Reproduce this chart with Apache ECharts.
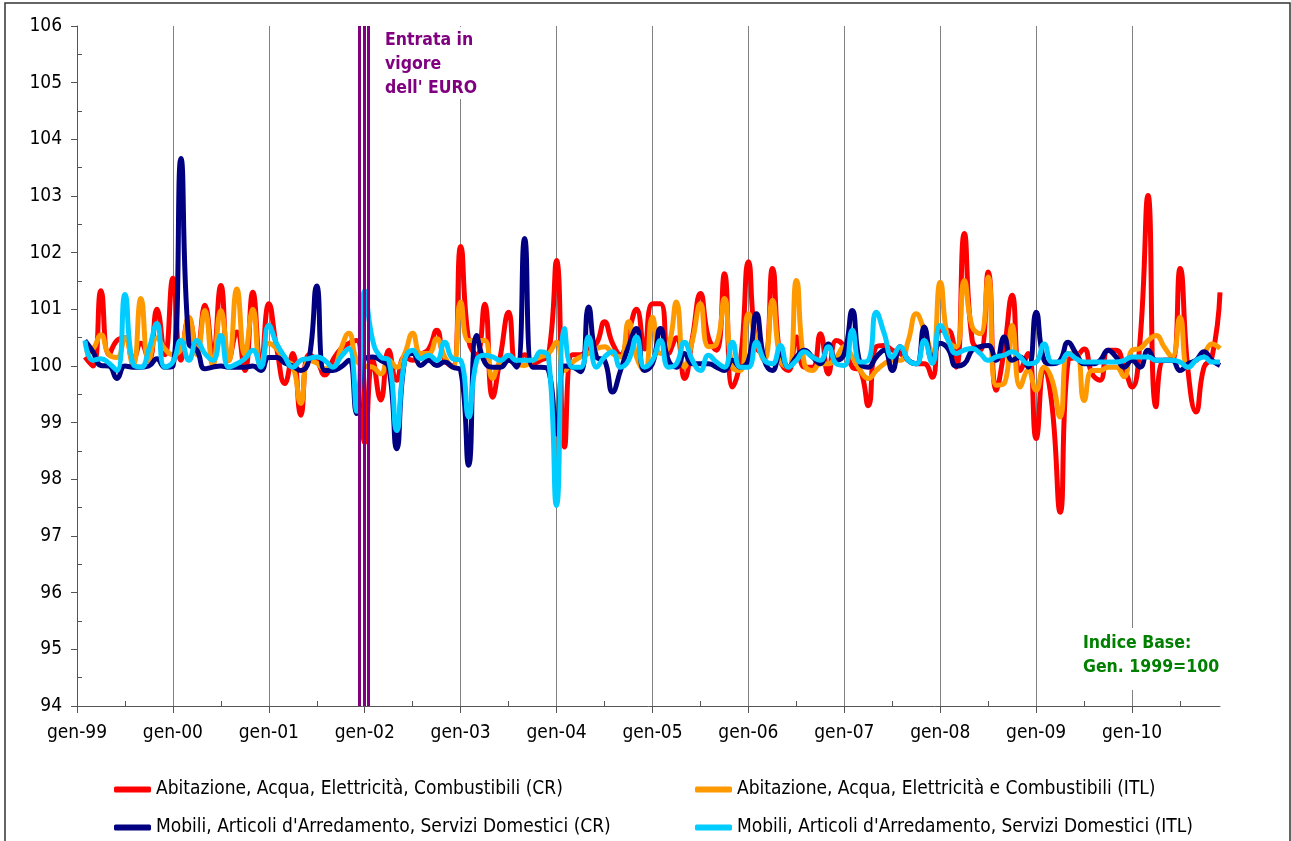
<!DOCTYPE html>
<html>
<head>
<meta charset="utf-8">
<script src="https://cdn.jsdelivr.net/npm/echarts@6/dist/echarts.min.js"></script>
<style>
  html, body { margin: 0; padding: 0; background: #fff; }
  #main { width: 1291px; height: 841px; }
</style>
</head>
<body>
<div id="main"></div>
<script>
// Categories: monthly, gen-99 .. dic-10
const monthNames = ['gen', 'feb', 'mar', 'apr', 'mag', 'giu', 'lug', 'ago', 'set', 'ott', 'nov', 'dic'];
const yearNames = ['99', '00', '01', '02', '03', '04', '05', '06', '07', '08', '09', '10'];
const months = [];
yearNames.forEach(y => monthNames.forEach(m => months.push(m + '-' + y)));

// Series names
const nameRedCR = 'Abitazione, Acqua, Elettricità, Combustibili (CR)';
const nameOrangeITL = 'Abitazione, Acqua, Elettricità e Combustibili (ITL)';
const nameNavyCR = "Mobili, Articoli d'Arredamento, Servizi Domestici (CR)";
const nameCyanITL = "Mobili, Articoli d'Arredamento, Servizi Domestici (ITL)";

// Values (one row per year, first month of 1999 has no value)
const abitazioneCR = [
  null, 100.16, 100.0, 101.33, 100.2, 100.45, 100.5, 100.1, 100.4, 100.1, 101.0, 100.2,
  101.55, 100.1, 100.85, 100.3, 101.07, 100.2, 101.42, 100.1, 100.6, 99.92, 101.3, 100.0,
  101.1, 100.3, 99.69, 100.22, 99.13, 100.2, 100.1, 99.84, 100.1, 100.3, 100.4, 100.45,
  98.65, 100.1, 99.4, 100.28, 99.75, 100.16, 100.1, 100.2, 100.3, 100.63, 100.1, 100.0,
  102.11, 100.45, 100.2, 101.09, 99.45, 100.2, 100.95, 100.0, 100.2, 100.05, 100.1, 100.2,
  101.86, 98.57, 100.2, 100.2, 100.3, 100.4, 100.78, 100.4, 100.2, 100.6, 101.0, 100.3,
  101.1, 101.1, 100.22, 100.5, 99.78, 100.5, 101.28, 100.5, 100.28, 101.63, 99.63, 100.1,
  101.84, 100.34, 100.22, 101.72, 100.1, 99.92, 100.51, 99.98, 99.98, 100.57, 99.86, 100.45,
  100.34, 99.98, 99.92, 99.3, 100.34, 100.36, 100.28, 100.22, 100.1, 100.04, 100.04, 99.8,
  100.63, 100.63, 99.98, 102.34, 100.45, 100.28, 101.66, 99.57, 100.28, 101.25, 99.92, 100.22,
  98.72, 99.98, 99.28, 97.42, 100.1, 100.16, 100.3, 99.86, 99.75, 100.28, 100.28, 99.98,
  99.63, 100.45, 103.01, 99.28, 100.1, 100.1, 101.72, 99.92, 99.19, 99.98, 100.16, 101.3
];
const abitazioneITL = [
  null, 100.22, 100.3, 100.55, 100.2, 100.15, 100.5, 100.0, 101.19, 100.1, 100.5, 100.3,
  100.2, 100.3, 100.86, 100.2, 100.98, 100.0, 100.98, 100.1, 101.36, 100.2, 101.0, 99.98,
  100.4, 100.3, 100.1, 100.0, 99.34, 100.1, 100.05, 99.95, 99.95, 100.3, 100.58, 100.1,
  100.0, 99.98, 99.86, 100.1, 99.98, 100.22, 100.58, 100.22, 100.22, 100.48, 100.16, 99.98,
  101.13, 100.45, 100.45, 100.45, 99.78, 100.07, 100.1, 100.04, 100.01, 100.1, 100.16, 100.22,
  100.42, 99.92, 100.07, 100.16, 100.22, 100.31, 100.34, 100.22, 100.16, 100.78, 100.16, 99.92,
  100.86, 100.22, 100.34, 101.13, 99.98, 100.45, 101.1, 100.34, 100.39, 101.19, 99.98, 99.92,
  100.92, 100.45, 100.1, 101.16, 100.1, 99.98, 101.51, 100.04, 99.92, 100.04, 100.04, 100.16,
  100.34, 100.16, 99.92, 99.78, 99.92, 100.04, 100.1, 100.1, 100.45, 100.92, 100.63, 100.22,
  101.48, 100.45, 100.34, 101.51, 100.69, 100.57, 101.57, 99.66, 99.69, 100.72, 99.63, 99.92,
  99.57, 99.98, 99.75, 99.1, 100.22, 100.22, 99.39, 99.92, 99.92, 99.98, 99.98, 99.81,
  100.28, 100.31, 100.45, 100.54, 100.34, 100.16, 100.86, 99.98, 100.1, 100.22, 100.39, 100.31
];
const mobiliCR = [
  null, 100.45, 100.25, 100.01, 100.0, 99.78, 100.0, 99.98, 99.98, 100.0, 100.13, 99.98,
  100.0, 103.66, 100.4, 100.28, 99.95, 99.98, 100.0, 99.98, 99.98, 99.98, 100.0, 99.92,
  100.15, 100.15, 100.05, 100.0, 99.92, 100.1, 101.41, 99.92, 99.92, 99.98, 100.1, 99.16,
  100.13, 100.16, 100.1, 99.98, 98.54, 100.1, 100.22, 100.01, 100.1, 100.01, 100.07, 99.98,
  99.92, 98.25, 100.54, 100.07, 99.98, 99.98, 100.1, 99.98, 102.25, 99.98, 99.98, 99.92,
  98.8, 100.0, 99.98, 99.9, 101.04, 100.16, 100.1, 99.54, 99.92, 100.34, 100.66, 99.92,
  100.04, 100.66, 100.1, 99.98, 100.22, 100.04, 100.04, 100.04, 99.98, 99.92, 100.1, 99.98,
  100.1, 100.92, 100.1, 99.92, 100.22, 99.98, 100.16, 100.28, 100.16, 100.04, 100.39, 100.1,
  100.22, 100.98, 100.04, 99.98, 100.16, 100.28, 99.92, 100.34, 100.1, 100.04, 100.69, 100.1,
  100.4, 100.3, 100.0, 100.04, 100.28, 100.34, 100.36, 100.1, 100.51, 100.1, 100.16, 99.98,
  100.95, 100.1, 100.04, 100.1, 100.42, 100.22, 100.04, 100.04, 100.1, 100.28, 100.16, 99.98,
  100.1, 99.98, 100.28, 100.1, 100.1, 100.1, 99.92, 100.04, 100.1, 100.25, 100.1, 100.01
];
const mobiliITL = [
  null, 100.45, 100.1, 100.13, 100.05, 99.92, 101.26, 100.04, 99.98, 100.3, 100.75, 99.98,
  100.07, 100.45, 100.1, 100.45, 100.22, 100.1, 100.54, 99.98, 100.04, 100.13, 100.28, 99.98,
  100.72, 100.39, 100.16, 99.98, 100.1, 100.13, 100.16, 100.1, 99.98, 100.16, 100.31, 99.2,
  101.33, 100.45, 100.16, 100.1, 98.86, 100.1, 100.28, 100.13, 100.19, 100.1, 100.42, 100.13,
  100.1, 99.1, 100.1, 100.19, 100.16, 100.1, 100.19, 100.1, 100.1, 100.1, 100.25, 100.15,
  97.54, 100.66, 99.98, 99.98, 100.51, 99.98, 100.16, 100.25, 99.98, 100.1, 100.51, 99.98,
  100.1, 100.45, 99.98, 100.04, 100.42, 100.1, 99.92, 100.19, 100.07, 99.98, 100.42, 99.98,
  99.98, 100.42, 100.1, 100.04, 100.36, 99.98, 100.1, 100.25, 100.16, 100.1, 100.34, 100.04,
  100.01, 100.63, 100.07, 100.1, 100.95, 100.57, 100.16, 100.34, 100.1, 100.04, 100.45, 100.05,
  100.72, 100.45, 100.22, 100.28, 100.31, 100.22, 100.1, 100.16, 100.19, 100.25, 100.16, 100.04,
  100.07, 100.39, 100.07, 100.07, 100.22, 100.13, 100.07, 100.07, 100.07, 100.07, 100.07, 100.1,
  100.16, 100.16, 100.16, 100.1, 100.1, 100.1, 100.07, 99.98, 100.1, 100.16, 100.07, 100.07
];

// Euro changeover marker (month index positions, Dec 2001 / Jan 2002)
const euroMarks = [35.33, 35.88, 36.46];

const FONT = "'DejaVu Sans Condensed', 'DejaVu Sans', sans-serif";
const isYearStart = idx => idx % 12 === 0;
const isMidYear = idx => idx % 12 === 6;

const chart = echarts.init(document.getElementById('main'));

function lineSeries(name, data, color) {
    return {
        name: name,
        type: 'line',
        data: data,
        smooth: true,
        showSymbol: false,
        symbol: 'none',
        color: color,
        lineStyle: { color: color, width: 5 }
    };
}

function legendBlock(left, names) {
    return {
        orient: 'vertical',
        left: left,
        top: 780,
        padding: 0,
        itemWidth: 37,
        itemHeight: 6,
        itemGap: 19,
        icon: 'roundRect',
        textStyle: { fontSize: 19, fontFamily: FONT, color: '#000' },
        data: names
    };
}

const option = {
    animation: false,
    backgroundColor: '#fff',
    grid: { left: 77, top: 26, width: 1143, height: 680 },
    legend: [
        legendBlock(114, [nameRedCR, nameNavyCR]),
        legendBlock(695, [nameOrangeITL, nameCyanITL])
    ],
    xAxis: [
        {
            type: 'category',
            data: months,
            boundaryGap: false,
            axisLine: { lineStyle: { color: '#555', width: 1 } },
            axisTick: { show: true, interval: isYearStart, length: 7, lineStyle: { color: '#555' } },
            axisLabel: { interval: isYearStart, color: '#000', fontSize: 19, fontFamily: FONT, margin: 18 },
            splitLine: { show: true, interval: isYearStart, lineStyle: { color: '#808080', width: 1 } }
        },
        {
            type: 'category',
            data: months,
            boundaryGap: false,
            position: 'bottom',
            axisLine: { show: false },
            axisLabel: { show: false },
            splitLine: { show: false },
            axisTick: { show: true, inside: true, interval: isMidYear, length: 5, lineStyle: { color: '#555' } }
        },
        {
            // month-index scale used only to place the euro marker
            type: 'value',
            min: 0,
            max: months.length - 1,
            show: false
        }
    ],
    yAxis: {
        type: 'value',
        min: 94,
        max: 106,
        interval: 1,
        axisLine: { show: true, lineStyle: { color: '#555', width: 1 } },
        axisTick: { show: true, length: 6, lineStyle: { color: '#555' } },
        minorTick: { show: true, splitNumber: 2, length: -5, lineStyle: { color: '#555' } },
        splitLine: { show: false },
        axisLabel: { color: '#000', fontSize: 19, fontFamily: FONT, margin: 15 }
    },
    series: [
        lineSeries(nameRedCR, abitazioneCR, '#FF0000'),
        lineSeries(nameOrangeITL, abitazioneITL, '#FF9900'),
        lineSeries(nameNavyCR, mobiliCR, '#000080'),
        lineSeries(nameCyanITL, mobiliITL, '#00CCFF'),
        {
            name: 'euro',
            type: 'line',
            xAxisIndex: 2,
            data: [],
            z: 10,
            markLine: {
                silent: true,
                symbol: 'none',
                label: { show: false },
                lineStyle: { color: '#800080', width: 3, type: 'solid' },
                data: euroMarks.map(v => ({ xAxis: v }))
            }
        }
    ],
    graphic: [
        {
            type: 'rect', z: 1,
            shape: { x: 5, y: 3, width: 1285, height: 850 },
            style: { fill: 'none', stroke: '#333', lineWidth: 1.5 }
        },
        {
            type: 'rect', z: 1,
            shape: { x: 374, y: 27, width: 102, height: 72 },
            style: { fill: '#fff' }
        },
        {
            type: 'text', z: 5,
            x: 385, y: 28,
            style: {
                text: "Entrata in\nvigore\ndell' EURO",
                fill: '#800080',
                font: 'bold 17.5px ' + FONT,
                lineHeight: 24,
                verticalAlign: 'top'
            }
        },
        {
            type: 'rect', z: 1,
            shape: { x: 1076, y: 628, width: 152, height: 62 },
            style: { fill: '#fff' }
        },
        {
            type: 'text', z: 5,
            x: 1083, y: 631,
            style: {
                text: 'Indice Base:\nGen. 1999=100',
                fill: '#008000',
                font: 'bold 17.5px ' + FONT,
                lineHeight: 24,
                verticalAlign: 'top'
            }
        }
    ]
};

chart.setOption(option);
</script>
</body>
</html>
